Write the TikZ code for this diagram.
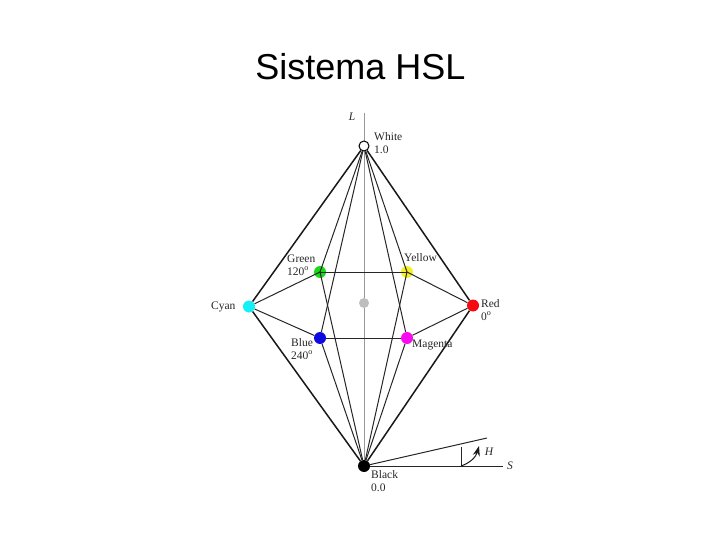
\documentclass[tikz,border=0pt]{standalone}
\usepackage{fontspec}
\setmainfont{Liberation Serif}
\newfontfamily\titlefont{Liberation Sans}
\usetikzlibrary{arrows.meta}
\definecolor{dotgray}{RGB}{190,190,190}
\definecolor{dotcyan}{RGB}{20,240,245}
\definecolor{dotmagenta}{RGB}{250,10,240}
\definecolor{dotgreen}{RGB}{25,215,25}
\definecolor{dotyellow}{RGB}{245,240,40}
\definecolor{dotred}{RGB}{245,10,15}
\definecolor{dotblue}{RGB}{10,10,225}
\tikzset{
    dot/.style={circle, inner sep=0pt, minimum size=12pt},
    lab/.style={align=left, inner sep=0pt, font=\fontsize{11.5}{12.5}\selectfont, text=black!85},
    axislab/.style={inner sep=0pt, font=\fontsize{11.5}{12.5}\selectfont\itshape, text=black!85},
    edge/.style={black!85, line width=1pt},
    outer/.style={black!90, line width=1.5pt},
    arrow/.style={-{Stealth[length=10pt,width=7pt]}, black!90, line width=1pt}
}
\begin{document}
\begin{tikzpicture}[x=1pt,y=-1pt]
\useasboundingbox (0,0) rectangle (720,540);
\node[inner sep=0pt, font=\fontsize{36}{40}\selectfont\titlefont] (title) at (360.5,67) {Sistema HSL};
% the axes
\coordinate (ltop) at (364,113);
\coordinate (send) at (503,466);
\coordinate (hend) at (487,438);
\coordinate (hfoot) at (461,466);
\coordinate (htop) at (461,447);
\coordinate (harc) at (479,446);
\node[dot, fill=dotgray, minimum size=10pt] (mid) at (364,303) {};
\draw[black!40, line width=1pt] (ltop) -- (mid) -- (364,466);
% the vertices
\node[dot, fill=white, draw=black, line width=1pt, minimum size=10pt] (white) at (364,146) {};
\node[dot, fill=black] (black) at (364,466) {};
\node[dot, fill=dotcyan] (cyan) at (249,306.5) {};
\node[dot, fill=dotred] (red) at (473,305.5) {};
\node[dot, fill=dotgreen] (green) at (320,272) {};
\node[dot, fill=dotyellow] (yellow) at (407,272) {};
\node[dot, fill=dotblue] (blue) at (320,338) {};
\node[dot, fill=dotmagenta] (magenta) at (407,338) {};
% the edges
\draw[outer] (white) -- (cyan);
\draw[outer] (white) -- (red);
\draw[outer] (black) -- (cyan);
\draw[outer] (black) -- (red);
\draw[edge] (white) -- (green.center);
\draw[edge] (white) -- (yellow.center);
\draw[edge] (white) -- (blue);
\draw[edge] (white) -- (magenta);
\draw[edge] (black) -- (green.center);
\draw[edge] (black) -- (yellow.center);
\draw[edge] (black) -- (blue);
\draw[edge] (black) -- (magenta);
\draw[edge] (cyan) -- (green.center);
\draw[edge] (cyan) -- (blue);
\draw[edge] (red) -- (yellow.center);
\draw[edge] (red) -- (magenta);
\draw[edge] (green.center) -- (yellow.center);
\draw[edge] (blue) -- (magenta);
% S and H
\draw[edge] (black) -- (send);
\draw[edge] (black) -- (hend);
\draw[edge] (hfoot) -- (htop);
\draw[arrow] (hfoot) .. controls (470,463) and (476,457) .. (harc);
% labels
\node[axislab] (llab) at (352,117) {L};
\node[lab, anchor=west] (whitelab) at (374,143) {White\\1.0};
\node[lab, anchor=west] (greenlab) at (287,265) {Green\\120$^{\mathrm{o}}$};
\node[lab, anchor=west] (yellowlab) at (404,258) {Yellow};
\node[lab, anchor=west] (cyanlab) at (211,307) {Cyan};
\node[lab, anchor=west] (redlab) at (481,310) {Red\\0$^{\mathrm{o}}$};
\node[lab, anchor=west] (bluelab) at (291,349) {Blue\\240$^{\mathrm{o}}$};
\node[lab, anchor=west] (magentalab) at (412,345) {Magenta};
\node[lab, anchor=west] (blacklab) at (371,481) {Black\\0.0};
\node[axislab] (hlab) at (489,452) {H};
\node[axislab] (slab) at (510,466) {S};
\end{tikzpicture}
\end{document}
